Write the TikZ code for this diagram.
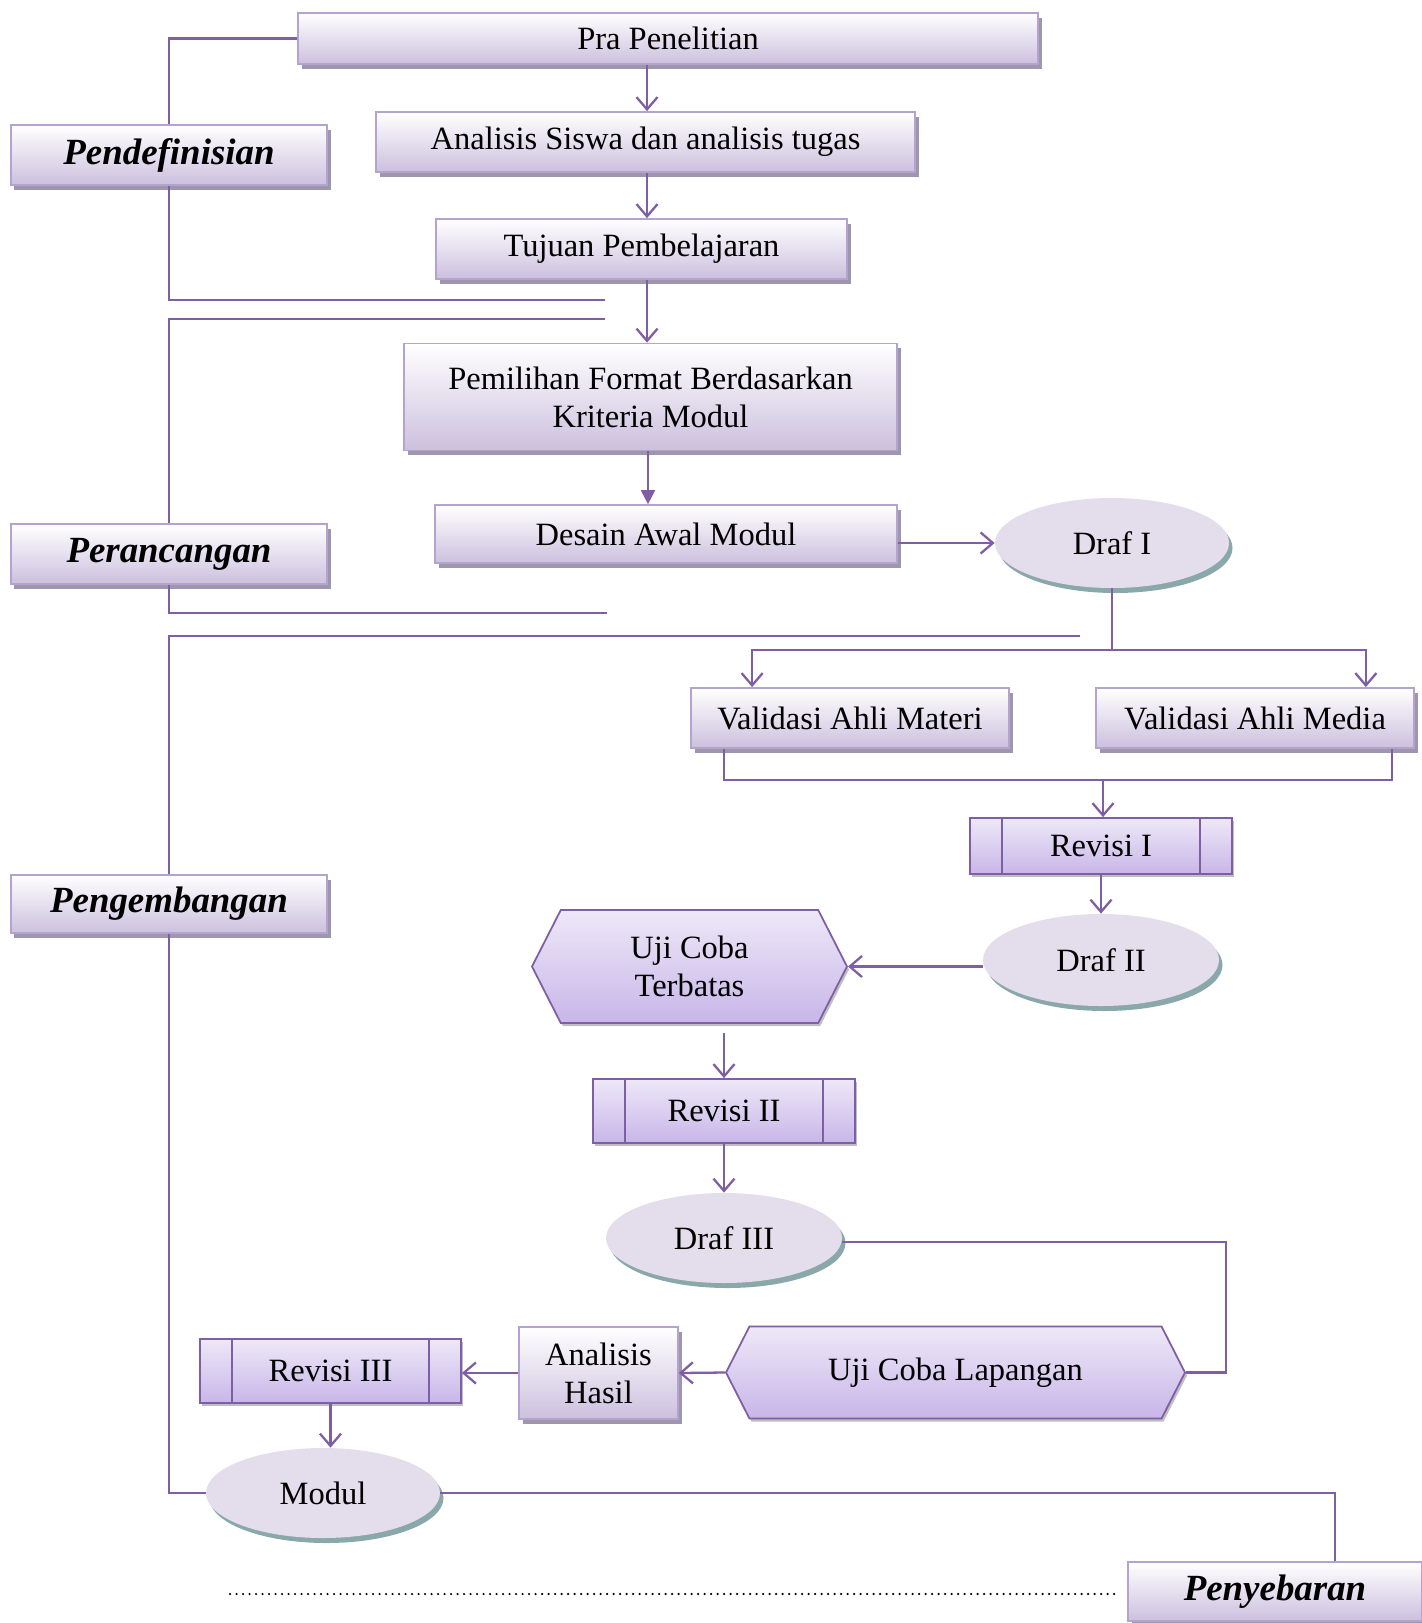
\documentclass[tikz,border=0pt]{standalone}
\usepackage{fontspec}
\setmainfont{Liberation Serif}
\usetikzlibrary{arrows.meta,shapes.geometric,shapes.symbols,shadows,calc}

\definecolor{linepurple}{RGB}{126,94,164}
\definecolor{boxedge}{RGB}{180,162,208}
\definecolor{boxlow}{RGB}{204,192,222}
\definecolor{boxshade}{RGB}{158,150,170}
\definecolor{revtop}{RGB}{238,232,248}
\definecolor{revlow}{RGB}{200,182,232}
\definecolor{ellfill}{RGB}{228,222,236}
\definecolor{ellshade}{RGB}{138,168,170}

\begin{document}
\begin{tikzpicture}[x=0.02cm, y=-0.02cm,
  font=\fontsize{18.5}{21.5}\selectfont,
  dims/.style 2 args={minimum width=#1*0.02cm, minimum height=#2*0.02cm},
  whitebox/.style={draw=boxedge, line width=1pt, top color=white, bottom color=boxlow,
    inner sep=0pt, align=center,
    drop shadow={shadow xshift=0.07cm, shadow yshift=-0.09cm, fill=boxshade, opacity=1}},
  phase/.style={whitebox, font=\fontsize{21}{25}\selectfont\bfseries\itshape},
  revbox/.style={draw=linepurple, line width=1pt, top color=revtop, bottom color=revlow,
    inner sep=0pt, align=center,
    drop shadow={shadow xshift=0.04cm, shadow yshift=-0.06cm, fill=black, opacity=0.25}},
  hexbox/.style={revbox, shape=signal, signal to=west and east, signal pointer angle=126},
  draf/.style={ellipse, fill=ellfill, inner sep=0pt,
    drop shadow={shadow xshift=0.07cm, shadow yshift=-0.1cm, fill=ellshade, opacity=1}},
  link/.style={draw=linepurple, line width=1.3pt},
  arr/.style={link, -{Straight Barb[length=7pt, width=12pt]}},
  fillarr/.style={link, -{Triangle[length=8pt, width=8pt]}},
  revline/.style={draw=linepurple, line width=1pt}]

  \useasboundingbox (0,0) rectangle (1421,1623);

  \node[whitebox, dims={740}{51}] (pra) at (668,38.5) {Pra Penelitian};
  \node[whitebox, dims={539}{60}] (sis) at (645.5,142) {Analisis Siswa dan analisis tugas};
  \node[whitebox, dims={411}{60}] (tuj) at (641.5,249) {Tujuan Pembelajaran};
  \node[whitebox, dims={493}{107}] (pil) at (650.5,397) {Pemilihan Format Berdasarkan\\Kriteria Modul};
  \node[whitebox, dims={462}{58}] (des) at (666,534) {Desain Awal Modul};
  \node[draf, dims={234}{90}] (draf1) at (1112,543) {Draf I};
  \node[whitebox, dims={318}{60}] (valmat) at (850,718) {Validasi Ahli Materi};
  \node[whitebox, dims={318}{60}] (valmed) at (1255,718) {Validasi Ahli Media};
  \node[revbox, dims={262}{56}] (rev1) at (1101,846) {Revisi I};
  \node[draf, dims={236}{92}] (draf2) at (1101,960) {Draf II};
  \node[hexbox, dims={315}{113}] (terbatas) at (689.5,966.5) {Uji Coba\\Terbatas};
  \node[revbox, dims={262}{64}] (rev2) at (724,1111) {Revisi II};
  \node[draf, dims={236}{90}] (draf3) at (724,1238) {Draf III};
  \node[hexbox, dims={459}{92}] (lapangan) at (955.5,1372.5) {Uji Coba Lapangan};
  \node[whitebox, dims={159}{92}] (hasil) at (598.5,1373) {Analisis\\Hasil};
  \node[revbox, dims={261}{64}] (rev3) at (330.5,1371) {Revisi III};
  \node[draf, dims={234}{90}] (modul) at (323,1493) {Modul};

  \node[phase, dims={316}{60}] (def) at (169,155) {Pendefinisian};
  \node[phase, dims={316}{60}] (ran) at (169,554) {Perancangan};
  \node[phase, dims={316}{58}] (bang) at (169,904) {Pengembangan};
  \node[phase, dims={294}{59}] (sebar) at (1275,1591.5) {Penyebaran};

  \foreach \n in {rev1,rev2,rev3} {
    \draw[revline] ($(\n.north west)+(33,0)$) -- ($(\n.south west)+(33,0)$);
    \draw[revline] ($(\n.north east)-(33,0)$) -- ($(\n.south east)-(33,0)$);
  }

  \coordinate (defend) at (605,300);
  \coordinate (rantop) at (605,319);
  \coordinate (ranend) at (607,613);
  \coordinate (bangtop) at (1080,636);
  \coordinate (fork) at (1112,650);
  \coordinate (join) at (1103,780);
  \coordinate (bend) at (1226,1242);
  \coordinate (dotstart) at (230,1594);

  % phases
  \draw[link] (pra.west) -| (def.north);
  \draw[link] (def.south) |- (defend);
  \draw[link] (rantop) -| (ran.north);
  \draw[link] (ran.south) |- (ranend);
  \draw[link] (bangtop) -| (bang.north);
  \draw[link] (bang.south) |- (modul.west);
  \draw[link] (modul.east) -| ($(sebar.north)+(60,0)$);
  \draw[line width=1.4pt, line cap=round, dash pattern=on 0pt off 3.7pt, shorten >=4pt]
    (dotstart) -- (dotstart -| sebar.west);

  % flow
  \draw[arr] (pra.south -| 647,0) -- (sis.north -| 647,0);
  \draw[arr] (sis.south -| 647,0) -- (tuj.north -| 647,0);
  \draw[arr] (tuj.south -| 647,0) -- (pil.north -| 647,0);
  \draw[fillarr] (pil.south -| 648,0) -- (des.north -| 648,0);
  \draw[arr] (des.east |- draf1) -- (draf1.west);
  \draw[link] (draf1.south) -- (fork);
  \draw[arr] (fork) -| ($(valmat.north west)+(62,0)$);
  \draw[arr] (fork) -| ($(valmed.north east)-(49,0)$);
  \draw[link] ($(valmat.south west)+(34,0)$) |- (join) -| ($(valmed.south east)-(23,0)$);
  \draw[arr] (join) -- (join |- rev1.north);
  \draw[arr] (rev1.south) -- (draf2.north);
  \draw[arr] (draf2.west |- terbatas) -- (terbatas.east);
  \draw[arr] ($(rev2.north |- terbatas.south)+(0,9)$) -- (rev2.north);
  \draw[arr] (rev2.south) -- (draf3.north);
  \draw[link] (draf3.east |- bend) -- (bend) |- (lapangan.east);
  \draw[arr] (lapangan.west) -- (hasil.east);
  \draw[arr] (hasil.west) -- (hasil.west -| rev3.east);
  \draw[arr] (rev3.south) -- (rev3.south |- modul.north);
\end{tikzpicture}
\end{document}
